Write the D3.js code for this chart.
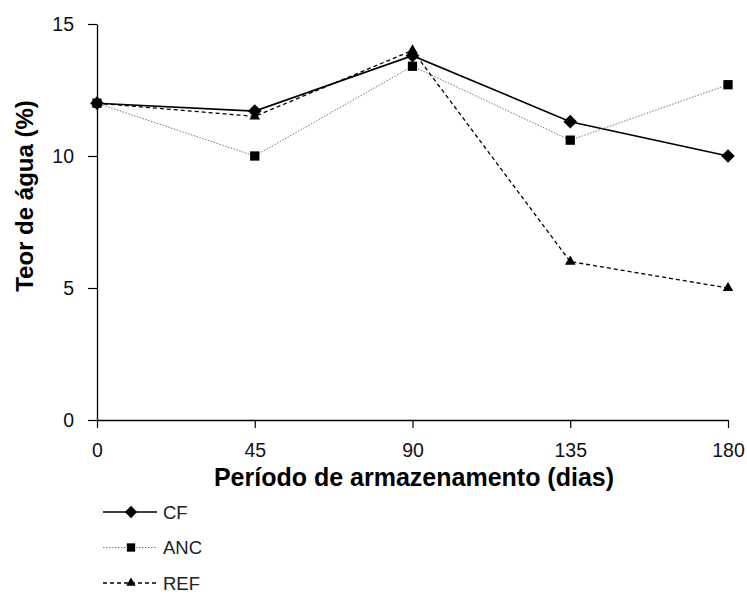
<!DOCTYPE html>
<html>
<head>
<meta charset="utf-8">
<script src="https://cdn.jsdelivr.net/npm/d3@7"></script>
<style>
  body { margin: 0; background: #fff; }
  svg { display: block; font-family: "Liberation Sans", Arial, sans-serif; }
</style>
</head>
<body>
<svg id="chart" width="747" height="594"></svg>
<script>
// Storage period (days) and water content (%) for each treatment
const days = [0, 45, 90, 135, 180];
const cf  = [12.0, 11.7, 13.8, 11.3, 10.0];
const anc = [12.0, 10.0, 13.4, 10.6, 12.7];
const ref = [12.0, 11.5, 14.0, 6.0, 5.0];
const yTicks = [0, 5, 10, 15];

const series = [
  { name: "CF",  values: cf,  symbol: d3.symbolDiamond2, size: 120, stroke: "#000", width: 1.6, dash: null },
  { name: "ANC", values: anc, symbol: d3.symbolSquare2,  size: 110, stroke: "#777", width: 1,   dash: "1.5,1.5" },
  { name: "REF", values: ref, symbol: d3.symbolTriangle2, size: 80, stroke: "#000", width: 1.3, dash: "4,3" }
];

const svg = d3.select("#chart");
const x = d3.scaleLinear().domain([0, 180]).range([97, 728]);
const y = d3.scaleLinear().domain([0, 15]).range([420, 24]);

// axes
const xAxis = svg.append("g").attr("transform", "translate(0,420)")
  .call(d3.axisBottom(x).tickValues(days).tickSize(8).tickPadding(15).tickSizeOuter(0));
const yAxis = svg.append("g").attr("transform", "translate(97,0)")
  .call(d3.axisLeft(y).tickValues(yTicks).tickSize(9).tickPadding(14).tickSizeOuter(0));
[xAxis, yAxis].forEach(g => {
  g.select(".domain").attr("stroke", "#000").attr("stroke-width", 1.3);
  g.selectAll(".tick line").attr("stroke", "#000").attr("stroke-width", 1.2);
  g.selectAll(".tick text").attr("fill", "#111").attr("font-size", 19.5)
    .attr("font-family", "'Liberation Sans', Arial, sans-serif");
});

// axis titles
svg.append("text").attr("x", 414).attr("y", 486).attr("text-anchor", "middle")
  .attr("font-size", 25).attr("font-weight", "bold").text("Período de armazenamento (dias)");
svg.append("text").attr("transform", "translate(33,196) rotate(-90)").attr("text-anchor", "middle")
  .attr("font-size", 24).attr("font-weight", "bold").text("Teor de água (%)");

// lines and markers
const line = d3.line().x((d, i) => x(days[i])).y(d => y(d));
series.forEach(s => {
  svg.append("path").datum(s.values).attr("d", line)
    .attr("fill", "none").attr("stroke", s.stroke).attr("stroke-width", s.width)
    .attr("stroke-dasharray", s.dash);
});
series.slice().reverse().forEach(s => {
  svg.append("g").selectAll("path").data(s.values).join("path")
    .attr("transform", (d, i) => `translate(${x(days[i])},${y(d)})`)
    .attr("d", d3.symbol(s.symbol, s.size)).attr("fill", "#000");
});

// legend
const legend = svg.append("g");
series.forEach((s, i) => {
  const ly = 512 + i * 35.5;
  const g = legend.append("g");
  g.append("line").attr("x1", 103).attr("x2", 157).attr("y1", ly).attr("y2", ly)
    .attr("stroke", s.stroke).attr("stroke-width", s.width).attr("stroke-dasharray", s.dash);
  g.append("path").attr("transform", `translate(131,${ly})`)
    .attr("d", d3.symbol(s.symbol, s.size * 0.8)).attr("fill", "#000");
  g.append("text").attr("x", 163).attr("y", ly + 6.5).attr("font-size", 18.5)
    .attr("fill", "#222").text(s.name);
});
</script>
</body>
</html>
